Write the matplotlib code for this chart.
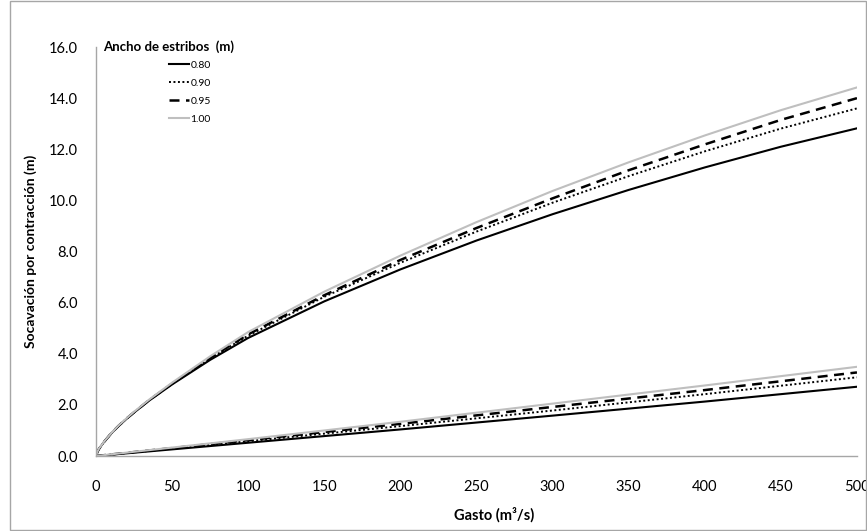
import matplotlib
matplotlib.use("Agg")
import matplotlib.pyplot as plt
from matplotlib.patches import Rectangle

plt.rcParams['font.family'] = ['Lato', 'DejaVu Sans']

# Gasto (m3/s) for the upper family of curves
q_up = [0, 1, 2, 5, 10, 15, 20, 25, 35, 50, 75, 100, 150, 200, 250, 300, 350, 400, 450, 500]
up_080 = [0, 0.17, 0.28, 0.53, 0.88, 1.18, 1.45, 1.70, 2.17, 2.80, 3.76, 4.62,
          6.05, 7.30, 8.43, 9.46, 10.41, 11.29, 12.10, 12.82]
up_090 = [0, 0.17, 0.28, 0.53, 0.88, 1.19, 1.46, 1.71, 2.19, 2.83, 3.82, 4.71,
          6.23, 7.56, 8.78, 9.91, 10.95, 11.92, 12.81, 13.60]
up_095 = [0, 0.17, 0.28, 0.53, 0.89, 1.19, 1.46, 1.71, 2.19, 2.83, 3.84, 4.76,
          6.29, 7.67, 8.92, 10.08, 11.18, 12.19, 13.15, 14.00]
up_100 = [0, 0.18, 0.29, 0.54, 0.89, 1.20, 1.47, 1.73, 2.21, 2.87, 3.90, 4.85,
          6.43, 7.84, 9.15, 10.37, 11.49, 12.54, 13.53, 14.42]

# lower family
q_low = [0, 100, 200, 300, 400, 500]
low_080 = [0, 0.52, 1.04, 1.58, 2.13, 2.71]
low_090 = [0, 0.58, 1.17, 1.78, 2.42, 3.08]
low_095 = [0, 0.62, 1.26, 1.92, 2.58, 3.27]
low_100 = [0, 0.66, 1.34, 2.05, 2.76, 3.49]

labels = ['0.80', '0.90', '0.95', '1.00']
styles = [
    dict(color='black', lw=1.5, ls='-'),
    dict(color='black', lw=1.4, ls=(0, (1, 1.3))),
    dict(color='black', lw=1.8, ls=(0, (4, 2.6))),
    dict(color='#BFBFBF', lw=1.5, ls='-'),
]

fig = plt.figure(figsize=(8.67, 5.31), dpi=100)
ax = fig.add_axes([0.1107, 0.1412, 0.8777, 0.7702])

handles = []
for ys_up, ys_low, lab, st in zip([up_080, up_090, up_095, up_100],
                                  [low_080, low_090, low_095, low_100],
                                  labels, styles):
    h, = ax.plot(q_up, ys_up, label=lab, **st)
    ax.plot(q_low, ys_low, **st)
    handles.append(h)

ax.set_xlim(0, 500)
ax.set_ylim(0, 16)
ax.set_xticks(range(0, 501, 50))
ax.set_yticks([i * 2.0 for i in range(9)])
ax.set_yticklabels([f'{i * 2.0:.1f}' for i in range(9)])
ax.tick_params(axis='both', length=0, labelsize=10.5, colors='black')
ax.tick_params(axis='x', pad=17)
ax.tick_params(axis='y', pad=13)
for s in ['top', 'right']:
    ax.spines[s].set_visible(False)
for s in ['left', 'bottom']:
    ax.spines[s].set_color('#A6A6A6')
    ax.spines[s].set_linewidth(1.0)

ax.set_xlabel('Gasto (m³/s)', fontsize=10.5, fontweight='bold')
ax.xaxis.set_label_coords(0.523, -0.125)
ax.set_ylabel('Socavación por contracción (m)', fontsize=10, fontweight='bold')
ax.yaxis.set_label_coords(-0.077, 0.5)

fig.text(103 / 867, 1 - 47 / 531, 'Ancho de estribos  (m)', fontsize=9.5,
         fontweight='bold', va='center', ha='left')
ax.legend(handles=handles, loc='upper left', bbox_to_anchor=(0.090, 0.978),
          frameon=False, fontsize=7.5, handlelength=2.0, handletextpad=0.1,
          labelspacing=0.84, borderaxespad=0)

fig.patches.append(Rectangle((10 / 867, 1 / 531), 856 / 867, 529 / 531,
                             transform=fig.transFigure, fill=False,
                             edgecolor='#A6A6A6', lw=1.0))

fig.savefig('out.png', dpi=100)
